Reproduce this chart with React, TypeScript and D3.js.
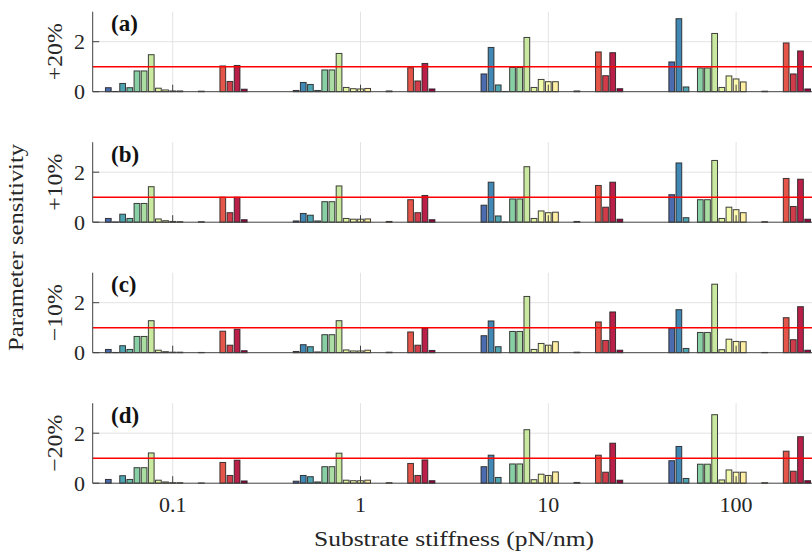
import React from "react";
import * as d3 from "d3";

// Group positions (substrate stiffness, pN/nm) and tick labels
const GROUPS = [0.1, 1, 10, 100];
const X_TICKS = [0.1, 1, 10, 100];
const X_TICK_LABELS = ["0.1", "1", "10", "100"];
const Y_TICKS = [0, 2];
const PANEL_LETTERS = ["(a)", "(b)", "(c)", "(d)"];
const PANEL_LABELS = ["+20%", "+10%", "\u221210%", "\u221220%"];
const N_PARAMS = 21; // parameter 1 has zero sensitivity everywhere

// Sensitivities of parameters 2..21 at each stiffness group
const plus20: number[][] = [
  [0.16, 0.01, 0.33, 0.16, 0.83, 0.83, 1.48, 0.14, 0.07, 0.03, 0.03, 0, 0, 0.02, 0, 0, 1.03, 0.41, 1.05, 0.1],
  [0.05, 0.37, 0.29, 0.05, 0.87, 0.87, 1.53, 0.17, 0.12, 0.11, 0.13, 0, 0, 0.03, 0, 0, 0.96, 0.43, 1.13, 0.11],
  [0.71, 1.77, 0.27, 0.01, 0.97, 0.97, 2.17, 0.17, 0.49, 0.4, 0.4, 0, 0, 0.03, 0, 0, 1.59, 0.64, 1.56, 0.12],
  [1.19, 2.92, 0.19, 0, 0.95, 0.95, 2.33, 0.17, 0.63, 0.51, 0.39, 0, 0, 0.02, 0, 0, 1.95, 0.71, 1.63, 0.11],
];
const plus10: number[][] = [
  [0.15, 0.01, 0.32, 0.15, 0.75, 0.75, 1.42, 0.13, 0.06, 0.03, 0.02, 0, 0, 0.02, 0, 0, 1.0, 0.38, 1.0, 0.1],
  [0.05, 0.35, 0.28, 0.05, 0.82, 0.82, 1.45, 0.15, 0.12, 0.12, 0.13, 0, 0, 0.03, 0, 0, 0.9, 0.38, 1.07, 0.1],
  [0.68, 1.6, 0.25, 0.01, 0.93, 0.93, 2.22, 0.15, 0.45, 0.38, 0.4, 0, 0, 0.03, 0, 0, 1.47, 0.6, 1.6, 0.12],
  [1.1, 2.37, 0.18, 0, 0.9, 0.9, 2.47, 0.15, 0.6, 0.5, 0.38, 0, 0, 0.02, 0, 0, 1.75, 0.63, 1.72, 0.12],
];
const minus10: number[][] = [
  [0.13, 0.01, 0.28, 0.13, 0.65, 0.65, 1.28, 0.1, 0.04, 0.02, 0.02, 0, 0, 0.01, 0, 0, 0.86, 0.3, 0.94, 0.08],
  [0.05, 0.32, 0.24, 0.03, 0.72, 0.72, 1.28, 0.11, 0.07, 0.07, 0.1, 0, 0, 0.02, 0, 0, 0.83, 0.3, 0.99, 0.09],
  [0.68, 1.27, 0.24, 0, 0.85, 0.85, 2.25, 0.13, 0.37, 0.3, 0.44, 0, 0, 0.02, 0, 0, 1.23, 0.49, 1.63, 0.1],
  [0.98, 1.72, 0.17, 0, 0.81, 0.81, 2.74, 0.12, 0.54, 0.45, 0.44, 0, 0, 0.01, 0, 0, 1.4, 0.52, 1.84, 0.1],
];
const minus20: number[][] = [
  [0.15, 0, 0.3, 0.15, 0.62, 0.62, 1.21, 0.12, 0.05, 0.02, 0.02, 0, 0, 0.01, 0, 0, 0.83, 0.31, 0.92, 0.09],
  [0.08, 0.31, 0.26, 0.05, 0.66, 0.66, 1.2, 0.12, 0.1, 0.1, 0.12, 0, 0, 0.02, 0, 0, 0.79, 0.31, 0.93, 0.1],
  [0.66, 1.12, 0.23, 0, 0.77, 0.77, 2.14, 0.14, 0.36, 0.31, 0.45, 0, 0, 0.03, 0, 0, 1.12, 0.44, 1.6, 0.12],
  [0.9, 1.47, 0.19, 0, 0.76, 0.76, 2.74, 0.13, 0.53, 0.44, 0.44, 0, 0, 0.02, 0, 0, 1.28, 0.48, 1.86, 0.1],
];
const PANELS = [plus20, plus10, minus10, minus20];

const W = 812;
const H = 553;
const FONT = "Liberation Serif";
const TXT: React.CSSProperties = { fontFamily: FONT };

export default function App() {
  const left = 92.7;
  const decade = 187.8;
  const x0 = 172.7; // position of 0.1
  const logMin = -1 - (x0 - left) / decade;
  const logMax = logMin + 3.852;
  const x = d3.scaleLog().domain([10 ** logMin, 10 ** logMax]).range([left, left + 3.852 * decade]);
  const right = x.range()[1];

  const panelTop0 = 11.7;
  const panelH = 80;
  const panelStep = 130.5;
  const groupWidth = 0.8; // in decades
  const stepDec = groupWidth / N_PARAMS;
  const color = (i: number) => d3.interpolateSpectral(1 - i / (N_PARAMS - 1));

  return (
    <svg width={W} height={H} style={{ position: "absolute", left: 0, top: 0, background: "#fff" }}>
      <rect x={0} y={0} width={W} height={H} fill="#fff" />
      {PANELS.map((data, p) => {
        const top = panelTop0 + p * panelStep;
        const y = d3.scaleLinear().domain([0, 3.2]).range([top + panelH, top]);
        const base = y(0);
        return (
          <g key={p}>
            {X_TICKS.map((t) => (
              <line key={"gx" + t} x1={x(t)} x2={x(t)} y1={top} y2={base} stroke="#e3e3e3" strokeWidth={1} />
            ))}
            {Y_TICKS.filter((t) => t > 0).map((t) => (
              <line key={"gy" + t} x1={left} x2={right} y1={y(t)} y2={y(t)} stroke="#e3e3e3" strokeWidth={1} />
            ))}
            {data.map((vals, g) =>
              vals.map((v, j) => {
                const i = j + 1;
                if (v <= 0) return null;
                const c = Math.log10(GROUPS[g]) + (i - (N_PARAMS - 1) / 2) * stepDec;
                const xl = x(10 ** (c - stepDec * 0.4));
                const xr = x(10 ** (c + stepDec * 0.4));
                return (
                  <rect
                    key={g + "-" + j}
                    x={xl}
                    y={y(v)}
                    width={xr - xl}
                    height={base - y(v)}
                    fill={color(i)}
                    stroke="#1e1e1e"
                    strokeOpacity={0.85}
                    strokeWidth={1}
                  />
                );
              })
            )}
            <line x1={left} x2={right} y1={y(1)} y2={y(1)} stroke="#ff0000" strokeWidth={1.6} />
            <line x1={left} x2={left} y1={top} y2={base} stroke="#404040" strokeWidth={1} />
            <line x1={left} x2={right} y1={base} y2={base} stroke="#404040" strokeWidth={1} />
            {Y_TICKS.map((t) => (
              <g key={"yt" + t}>
                <line x1={left} x2={left + 6.5} y1={y(t)} y2={y(t)} stroke="#404040" strokeWidth={1} />
                <text x={85} y={y(t)} dy="0.34em" textAnchor="end" fontSize={22} fill="#262626" style={TXT}>
                  {t}
                </text>
              </g>
            ))}
            {X_TICKS.map((t) => (
              <line key={"xt" + t} x1={x(t)} x2={x(t)} y1={base} y2={base - 7} stroke="#404040" strokeWidth={1} />
            ))}
            {p === PANELS.length - 1 &&
              X_TICKS.map((t, k) => (
                <text key={"xl" + t} x={x(t)} y={base + 29} textAnchor="middle" fontSize={22} fill="#262626" style={TXT}>
                  {X_TICK_LABELS[k]}
                </text>
              ))}
            <text x={111} y={top + 19.5} fontSize={23} fontWeight="bold" fill="#111" style={TXT}>
              {PANEL_LETTERS[p]}
            </text>
            <text
              transform={`translate(62, ${(top + base) / 2}) rotate(-90)`}
              textAnchor="middle"
              fontSize={22}
              fill="#262626"
              style={TXT}
              textLength={57}
              lengthAdjust="spacingAndGlyphs"
            >
              {PANEL_LABELS[p]}
            </text>
          </g>
        );
      })}
      <text
        transform={`translate(23, ${(panelTop0 + panelTop0 + 3 * panelStep + panelH) / 2}) rotate(-90)`}
        textAnchor="middle"
        fontSize={22}
        fill="#262626"
        style={TXT}
        textLength={207}
        lengthAdjust="spacingAndGlyphs"
      >
        Parameter sensitivity
      </text>
      <text
        x={454}
        y={546}
        textAnchor="middle"
        fontSize={22}
        fill="#262626"
        style={TXT}
        textLength={280}
        lengthAdjust="spacingAndGlyphs"
      >
        Substrate stiffness (pN/nm)
      </text>
    </svg>
  );
}
